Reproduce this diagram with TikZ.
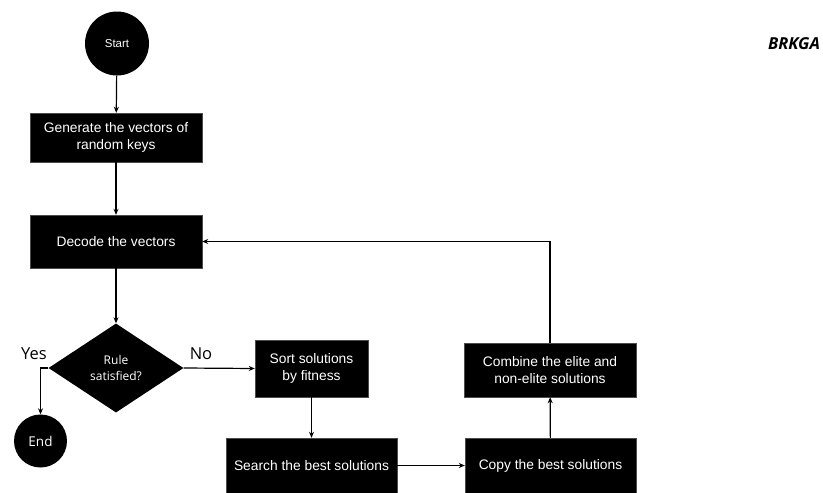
\documentclass[tikz,border=0pt]{standalone}
\usepackage{fontspec}
\setmainfont{Liberation Sans}
\newfontfamily\opensans{Open Sans}
\usetikzlibrary{shapes.geometric,arrows.meta}
\tikzset{
  stepbox/.style={rectangle, fill=black, draw=black!70, text=white, align=center,
    inner sep=0pt, font=\fontsize{13.8}{17}\selectfont},
  terminal/.style={circle, fill=black, text=white, inner sep=0pt},
  flow/.style={line width=1.2pt, -{Stealth[length=6pt,width=5pt]}},
  answer/.style={font=\opensans\fontsize{16.5}{18}\selectfont},
}
\begin{document}
\begin{tikzpicture}[x=1pt, y=-1pt]
    \useasboundingbox (0,0) rectangle (823,493);

    \node[terminal, minimum size=64pt, font=\fontsize{11.5}{13}\selectfont] (start) at (117, 43.5) {Start};
    \node[stepbox, minimum width=172pt, minimum height=49pt] (gen) at (116, 137.5) {Generate the vectors of\\random keys};
    \node[stepbox, minimum width=172pt, minimum height=53pt] (dec) at (116, 241.5) {Decode the vectors};
    \node[diamond, fill=black, text=white, align=center, inner sep=0pt,
          minimum width=135pt, minimum height=89pt,
          font=\opensans\fontsize{12}{16}\selectfont] (cond) at (116, 368) {Rule\\satisfied?};
    \node[terminal, minimum size=53pt, font=\opensans\fontsize{13.5}{15}\selectfont] (end) at (40.5, 441) {End};
    \node[stepbox, minimum width=113pt, minimum height=57pt] (sort) at (311.5, 368.5) {Sort solutions\\by fitness};
    \node[stepbox, minimum width=171pt, minimum height=55pt] (search) at (311.5, 465.5) {Search the best solutions};
    \node[stepbox, minimum width=171pt, minimum height=55pt] (copy) at (550.5, 465.5) {Copy the best solutions};
    \node[stepbox, minimum width=172pt, minimum height=54pt] (comb) at (550, 370) {Combine the elite and\\non-elite solutions};

    \node[font=\opensans\bfseries\itshape\fontsize{16.5}{18}\selectfont] (title) at (794, 44) {BRKGA};
    \node[answer] (yes) at (34, 354) {Yes};
    \node[answer] (no) at (201, 354) {No};

    \draw[flow] (start) -- (gen);
    \draw[flow] (gen) -- (dec);
    \draw[flow] (dec) -- (cond);
    \draw[flow] (cond.west) -| (end.north);
    \draw[flow] (cond.east) -- (sort.west);
    \draw[flow] (sort) -- (search);
    \draw[flow] (search) -- (copy);
    \draw[flow] (copy) -- (comb);
    \draw[flow] (comb.north) |- (dec.east);
\end{tikzpicture}
\end{document}
